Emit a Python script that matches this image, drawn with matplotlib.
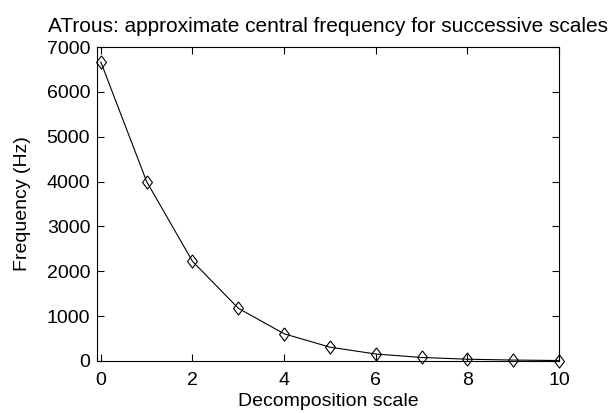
import matplotlib
matplotlib.use('Agg')
import matplotlib.pyplot as plt

plt.rcParams['font.family'] = ['Liberation Sans', 'DejaVu Sans']

# decomposition scales and approximate central frequencies (Hz)
scales = [0, 1, 2, 3, 4, 5, 6, 7, 8, 9, 10]
freqs = [6667, 4000, 2222, 1176, 606, 308, 155, 78, 39, 20, 10]

# MATLAB-style diamond (a bit taller than wide)
diamond = [(0, 1), (0.75, 0), (0, -1), (-0.75, 0), (0, 1)]

fig = plt.figure(figsize=(6.15, 4.13), dpi=100)
ax = fig.add_axes([0.158, 0.126, 0.751, 0.760])

ax.plot(scales, freqs, color='black', linewidth=0.8, marker=diamond,
        markersize=9.5, markerfacecolor='none', markeredgecolor='black',
        markeredgewidth=0.8, clip_on=False)

ax.set_xlim(-0.08, 10)
ax.set_ylim(0, 7000)
ax.set_xticks(range(0, 11, 2))
ax.set_yticks(range(0, 7001, 1000))
ax.tick_params(direction='in', top=True, right=True, length=5, labelsize=14)
ax.tick_params(axis='x', pad=8)
ax.tick_params(axis='y', pad=5)
for s in ax.spines.values():
    s.set_linewidth(0.8)

ax.set_title('ATrous: approximate central frequency for successive scales',
             fontsize=15, pad=11)
ax.set_xlabel('Decomposition scale', fontsize=14, labelpad=3)
ax.set_ylabel('Frequency (Hz)', fontsize=14, labelpad=11)

fig.savefig('out.png', dpi=100)
